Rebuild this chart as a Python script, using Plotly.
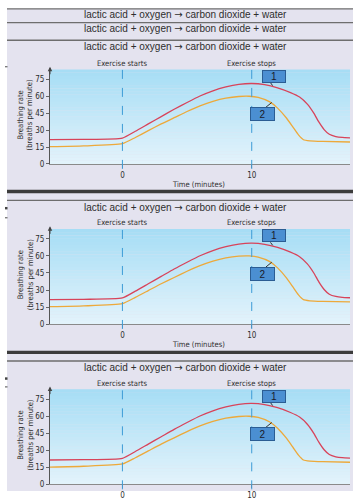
import plotly.graph_objects as go

# ---------------- data ----------------
t_red = [-5.6, -3, 0, 1, 2, 3, 4, 5, 6, 7, 8, 9, 10, 11, 12, 13, 13.7, 14.3, 14.8, 15.2, 15.6, 16.0, 16.5, 17.0, 17.6]
breath_red = [21.5, 21.8, 23, 29, 35.5, 42, 48.5, 54.5, 60.2, 64.8, 68.2, 70.5, 71.3, 70.3, 67.5, 63.3, 59.3, 53, 45, 37, 30.5, 26.3, 24.3, 23.5, 23.2]
t_orange = [-5.6, -3, 0, 1, 2, 3, 4, 5, 6, 7, 8, 9, 9.8, 10.5, 11.4, 12, 12.7, 13.2, 13.6, 14.0, 14.5, 15.5, 17.6]
breath_orange = [15.3, 16, 18, 23.5, 29.5, 35.5, 41, 46.5, 51.5, 55.5, 58.3, 59.8, 60, 59, 55, 49.5, 40.5, 32.5, 26, 21.5, 20.5, 20, 19.5]
y_ticks = [0, 15, 30, 45, 60, 75]
x_ticks = [0, 10]
events = [(0, "Exercise starts"), (10, "Exercise stops")]
header_text = "lactic acid + oxygen <span style='font-family:DejaVu Sans'>\u2192</span> carbon dioxide + water"
y_title = "Breathing rate<br>(breaths per minute)"
x_title = "Time (minutes)"
labels = ["1", "2"]

# ---------------- layout helpers ----------------
W, H = 353, 500
def fy(p):
    return 1 - p / H
def fx(p):
    return p / W

X_RANGE = [-5.6, 17.6]
Y_RANGE = [0, 83.5]
tops = [71, 233.5, 396.7]
bots = [167, 330, 493.3]
PLOT_L, PLOT_R = 50, 350

NARROW = "DejaVu Sans Condensed, DejaVu Sans, sans-serif"
REG = "Liberation Sans, Arial, Helvetica, sans-serif"
TXT = "#2e2e2e"
RED = "#d8435a"
ORANGE = "#eda93a"
DASH = "#3d9bd6"
NS = 7.6

fig = go.Figure()
layout = dict(width=W, height=H, margin=dict(l=0, r=0, t=0, b=0),
              paper_bgcolor="white", plot_bgcolor="rgba(0,0,0,0)",
              showlegend=False)
shapes = []
annotations = []

# page background
shapes.append(dict(type="rect", xref="paper", yref="paper", x0=fx(7), x1=1, y0=0, y1=fy(9),
                   fillcolor="#e4e3ef", line=dict(width=0), layer="below"))

# separator lines
for yy in [9, 23, 41, 204, 367.6]:
    shapes.append(dict(type="line", xref="paper", yref="paper", x0=fx(7), x1=1, y0=fy(yy), y1=fy(yy),
                       line=dict(color="#6e6e6e", width=1.3)))
for yy in [195, 358.8]:
    shapes.append(dict(type="line", xref="paper", yref="paper", x0=fx(7), x1=1, y0=fy(yy), y1=fy(yy),
                       line=dict(color="#3c3c3c", width=3.4)))

# small margin marks
for (yy, h) in [(68, 1), (212, 2.5), (221.8, 1), (385.5, 2.5), (394, 1)]:
    shapes.append(dict(type="rect", xref="paper", yref="paper", x0=fx(5), x1=fx(7.5),
                       y0=fy(yy + h / 2), y1=fy(yy - h / 2), fillcolor="#444", line=dict(width=0)))

# header texts
header_ys = [15, 29, 47, 211, 374]
for yy in header_ys:
    annotations.append(dict(text=header_text, xref="paper", yref="paper", x=fx(185), y=fy(yy),
                            xanchor="center", yanchor="middle", showarrow=False,
                            font=dict(family=REG, size=10, color=TXT)))

top_c = (166, 221, 245)
bot_c = (227, 243, 251)
NB = 30

for i in range(3):
    sfx = "" if i == 0 else str(i + 1)
    xname, yname = "x" + sfx, "y" + sfx
    layout["xaxis" + sfx] = dict(domain=[fx(PLOT_L), fx(PLOT_R)], range=X_RANGE, anchor=yname,
                                 tickvals=x_ticks, ticks="outside", ticklen=3, tickcolor="#777",
                                 showline=True, linecolor="#8a8a8a", linewidth=1, showgrid=False,
                                 zeroline=False, tickfont=dict(family=NARROW, size=8, color=TXT))
    layout["yaxis" + sfx] = dict(domain=[fy(bots[i]), fy(tops[i])], range=Y_RANGE, anchor=xname,
                                 tickvals=y_ticks, ticks="outside", ticklen=3, tickcolor="#666",
                                 showline=True, linecolor="#555", linewidth=1, showgrid=False,
                                 zeroline=False, tickfont=dict(family=NARROW, size=8, color=TXT))
    # gradient plot background
    for k in range(NB):
        f = (k + 0.5) / NB
        c = tuple(round(bot_c[j] + (top_c[j] - bot_c[j]) * f) for j in range(3))
        shapes.append(dict(type="rect", xref=xname + " domain", yref=yname + " domain",
                           x0=0, x1=1, y0=k / NB, y1=(k + 1) / NB + 0.002,
                           fillcolor="rgb(%d,%d,%d)" % c, line=dict(width=0), layer="below"))
    # curves
    fig.add_trace(go.Scatter(x=t_red, y=breath_red, mode="lines", xaxis=xname, yaxis=yname,
                             line=dict(color=RED, width=1.3, shape="spline", smoothing=0.5)))
    fig.add_trace(go.Scatter(x=t_orange, y=breath_orange, mode="lines", xaxis=xname, yaxis=yname,
                             line=dict(color=ORANGE, width=1.3, shape="spline", smoothing=0.5)))
    # event lines and texts
    for (tv, name) in events:
        shapes.append(dict(type="line", xref=xname, yref="paper", x0=tv, x1=tv,
                           y0=fy(bots[i] + 5), y1=fy(tops[i] - 2),
                           line=dict(color=DASH, width=1, dash="dash")))
        annotations.append(dict(text=name, xref=xname, yref="paper", x=tv, y=fy(tops[i] - 6.5),
                                xanchor="center", yanchor="middle", showarrow=False,
                                font=dict(family=NARROW, size=NS, color=TXT)))
    # y axis arrow
    annotations.append(dict(text="", xref=xname, yref="paper", x=X_RANGE[0], y=fy(tops[i] - 3),
                            ax=0, ay=9, showarrow=True, arrowhead=2, arrowsize=0.9,
                            arrowwidth=1, arrowcolor="#444"))
    # axis titles
    annotations.append(dict(text=y_title, xref="paper", yref="paper", x=fx(25.5),
                            y=fy((tops[i] + bots[i]) / 2 - 2), textangle=-90,
                            xanchor="center", yanchor="middle", showarrow=False,
                            font=dict(family=NARROW, size=NS, color=TXT)))
    if bots[i] + 20.5 < H:
        annotations.append(dict(text=x_title, xref="paper", yref="paper", x=fx(199),
                                y=fy(bots[i] + 20.5), xanchor="center", yanchor="middle",
                                showarrow=False, font=dict(family=NARROW, size=NS, color=TXT)))
    # numbered label boxes with leaders
    shapes.append(dict(type="line", xref=xname, yref=yname, x0=11.45, y0=72, x1=11.62, y1=69.4,
                       line=dict(color="#333", width=1)))
    shapes.append(dict(type="line", xref=xname, yref=yname, x0=11.1, y0=50.3, x1=11.55, y1=54.5,
                       line=dict(color="#333", width=1)))
    annotations.append(dict(text=labels[0], xref=xname, yref=yname, x=11.75, y=77.8,
                            showarrow=False, bgcolor="#4b8fd2", bordercolor="#2b5d93",
                            borderwidth=1, borderpad=0, width=22, height=11,
                            font=dict(family=REG, size=10, color="#1a1a2a")))
    annotations.append(dict(text=labels[1], xref=xname, yref=yname, x=10.84, y=44.4,
                            showarrow=False, bgcolor="#4b8fd2", bordercolor="#2b5d93",
                            borderwidth=1, borderpad=0, width=23, height=12,
                            font=dict(family=REG, size=10, color="#1a1a2a")))

layout["shapes"] = shapes
layout["annotations"] = annotations
fig.update_layout(**layout)
fig.write_html("out.html")
